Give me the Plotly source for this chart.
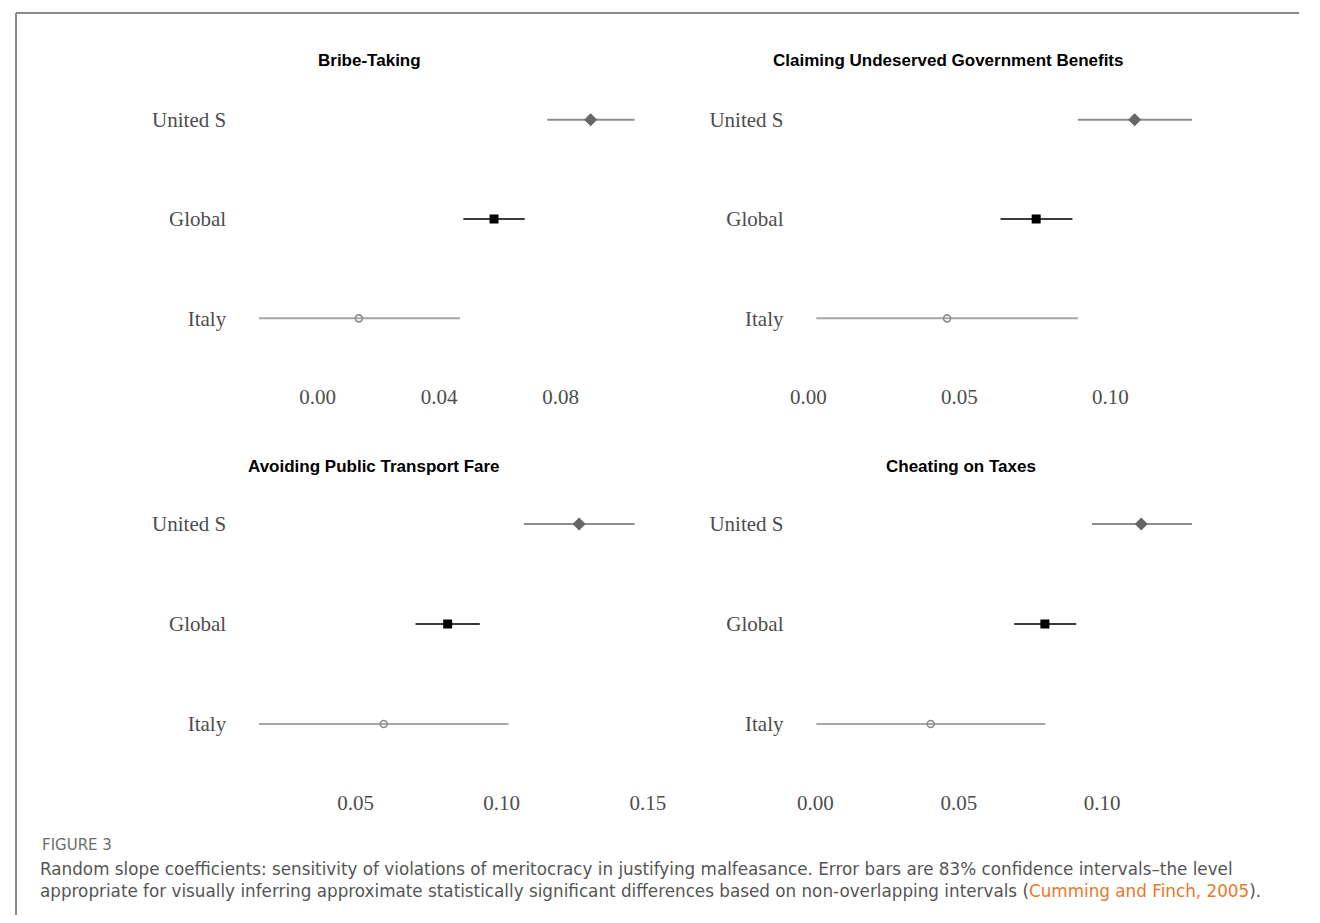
import plotly.graph_objects as go

# ---------------- data ----------------
panel_titles = ["Bribe-Taking", "Claiming Undeserved Government Benefits",
                "Avoiding Public Transport Fare", "Cheating on Taxes"]
groups = ["Italy", "Global", "United S"]

# estimates per panel, order: Italy, Global, United S
est_bribe = [0.0136, 0.0581, 0.0899]
lo_bribe = [-0.0193, 0.0480, 0.0756]
hi_bribe = [0.0469, 0.0682, 0.1044]

est_benefits = [0.0459, 0.0754, 0.1080]
lo_benefits = [0.0026, 0.0636, 0.0892]
hi_benefits = [0.0893, 0.0874, 0.1270]

est_fare = [0.0596, 0.0815, 0.1265]
lo_fare = [0.0169, 0.0705, 0.1076]
hi_fare = [0.1023, 0.0925, 0.1455]

est_taxes = [0.0402, 0.0800, 0.1136]
lo_taxes = [0.0003, 0.0693, 0.0964]
hi_taxes = [0.0802, 0.0909, 0.1313]

xtick_vals = [[0.00, 0.04, 0.08], [0.00, 0.05, 0.10], [0.05, 0.10, 0.15], [0.00, 0.05, 0.10]]
xtick_text = [["0.00", "0.04", "0.08"], ["0.00", "0.05", "0.10"],
              ["0.05", "0.10", "0.15"], ["0.00", "0.05", "0.10"]]

caption_label = "FIGURE 3"
caption_text = ("Random slope coefficients: sensitivity of violations of meritocracy in justifying "
                "malfeasance. Error bars are 83% confidence intervals\u2013the level<br>appropriate for "
                "visually inferring approximate statistically significant differences based on "
                "non-overlapping intervals (")
caption_cite = "Cumming and Finch, 2005"

# ---------------- layout helpers ----------------
OFF = 8                      # page body margin
FW, FH = 1320 - 2 * OFF, 923 - 2 * OFF
SX, CX = 0.984, 15.0         # horizontal placement calibration


def px(x):
    return max(0.0, (x - CX) / SX) / FW


def py(y):
    return 1 - (y - OFF) / FH


marker_sym = {"Italy": "circle-open", "Global": "square", "United S": "diamond"}
marker_col = {"Italy": "#8a8a8a", "Global": "#000000", "United S": "#666666"}
line_col = {"Italy": "#a6a6a6", "Global": "#3a3a3a", "United S": "#8f8f8f"}
marker_size = {"Italy": 7, "Global": 9, "United S": 10}

panels = [
    (est_bribe, lo_bribe, hi_bribe),
    (est_benefits, lo_benefits, hi_benefits),
    (est_fare, lo_fare, hi_fare),
    (est_taxes, lo_taxes, hi_taxes),
]

# target pixel boxes (left, right, top, bottom)
boxes = [(240, 653, 60, 378), (797, 1210, 60, 378),
         (240, 653, 464, 784), (797, 1210, 464, 784)]
title_pos = [(369, 60), (947, 60), (374, 466), (960, 466)]

fig = go.Figure()
serif = "Liberation Serif, Times New Roman, serif"

for i, (est, lo, hi) in enumerate(panels):
    ax = "" if i == 0 else str(i + 1)
    for j, g in enumerate(groups):
        fig.add_trace(go.Scatter(
            x=[est[j]], y=[g],
            mode="markers",
            marker=dict(symbol=marker_sym[g], color=marker_col[g], size=marker_size[g],
                        line=dict(width=1.6 if g == "Italy" else 0, color=marker_col[g])),
            error_x=dict(type="data", symmetric=False,
                         array=[hi[j] - est[j]], arrayminus=[est[j] - lo[j]],
                         color=line_col[g], thickness=2, width=0),
            xaxis="x" + ax, yaxis="y" + ax, showlegend=False, hoverinfo="x+y"))
    allv = lo + hi
    mn, mx = min(allv), max(allv)
    pad = (mx - mn) * 0.05
    l, r, t, b = boxes[i]
    fig.layout["xaxis" + ax] = dict(
        domain=[px(l), px(r)], range=[mn - pad, mx + pad],
        tickvals=xtick_vals[i], ticktext=xtick_text[i],
        showgrid=False, zeroline=False, showline=False, ticks="",
        tickfont=dict(family=serif, size=21, color="#4d4d4d"),
        ticklabelstandoff=4, anchor="y" + ax, fixedrange=True)
    fig.layout["yaxis" + ax] = dict(
        domain=[py(b), py(t)], range=[-0.6, 2.6],
        type="category", categoryorder="array", categoryarray=groups,
        showgrid=False, zeroline=False, showline=False, ticks="",
        tickfont=dict(family=serif, size=21, color="#4d4d4d"),
        ticklabelstandoff=13, anchor="x" + ax, fixedrange=True)
    tx, ty = title_pos[i]
    fig.add_annotation(x=px(tx), y=py(ty), xref="paper", yref="paper",
                       text="<b>" + panel_titles[i] + "</b>", showarrow=False,
                       xanchor="center", yanchor="middle",
                       font=dict(family="Liberation Sans, Arial, sans-serif", size=17, color="#000000"))

# caption
fig.add_annotation(x=px(40), y=py(845), xref="paper", yref="paper",
                   text=caption_label, showarrow=False, xanchor="left", yanchor="middle",
                   font=dict(family="DejaVu Sans, sans-serif", size=15, color="#6b6b6b"))
fig.add_annotation(x=px(38), y=py(880), xref="paper", yref="paper",
                   text=caption_text + "<span style='color:#e8782a'>" + caption_cite + "</span>).",
                   showarrow=False, xanchor="left", yanchor="middle", align="left",
                   font=dict(family="DejaVu Sans, sans-serif", size=16.8, color="#555555"))

# frame lines (top and left)
fig.add_shape(type="line", xref="paper", yref="paper", x0=1 / FW, x1=1, y0=py(13), y1=py(13),
              line=dict(color="#8a8a8a", width=2))
fig.add_shape(type="line", xref="paper", yref="paper", x0=1 / FW, x1=1 / FW, y0=0, y1=py(13),
              line=dict(color="#8a8a8a", width=2))

fig.update_layout(width=FW, height=FH, margin=dict(l=0, r=0, t=0, b=0),
                  paper_bgcolor="white", plot_bgcolor="white")

fig.write_html("out.html")
